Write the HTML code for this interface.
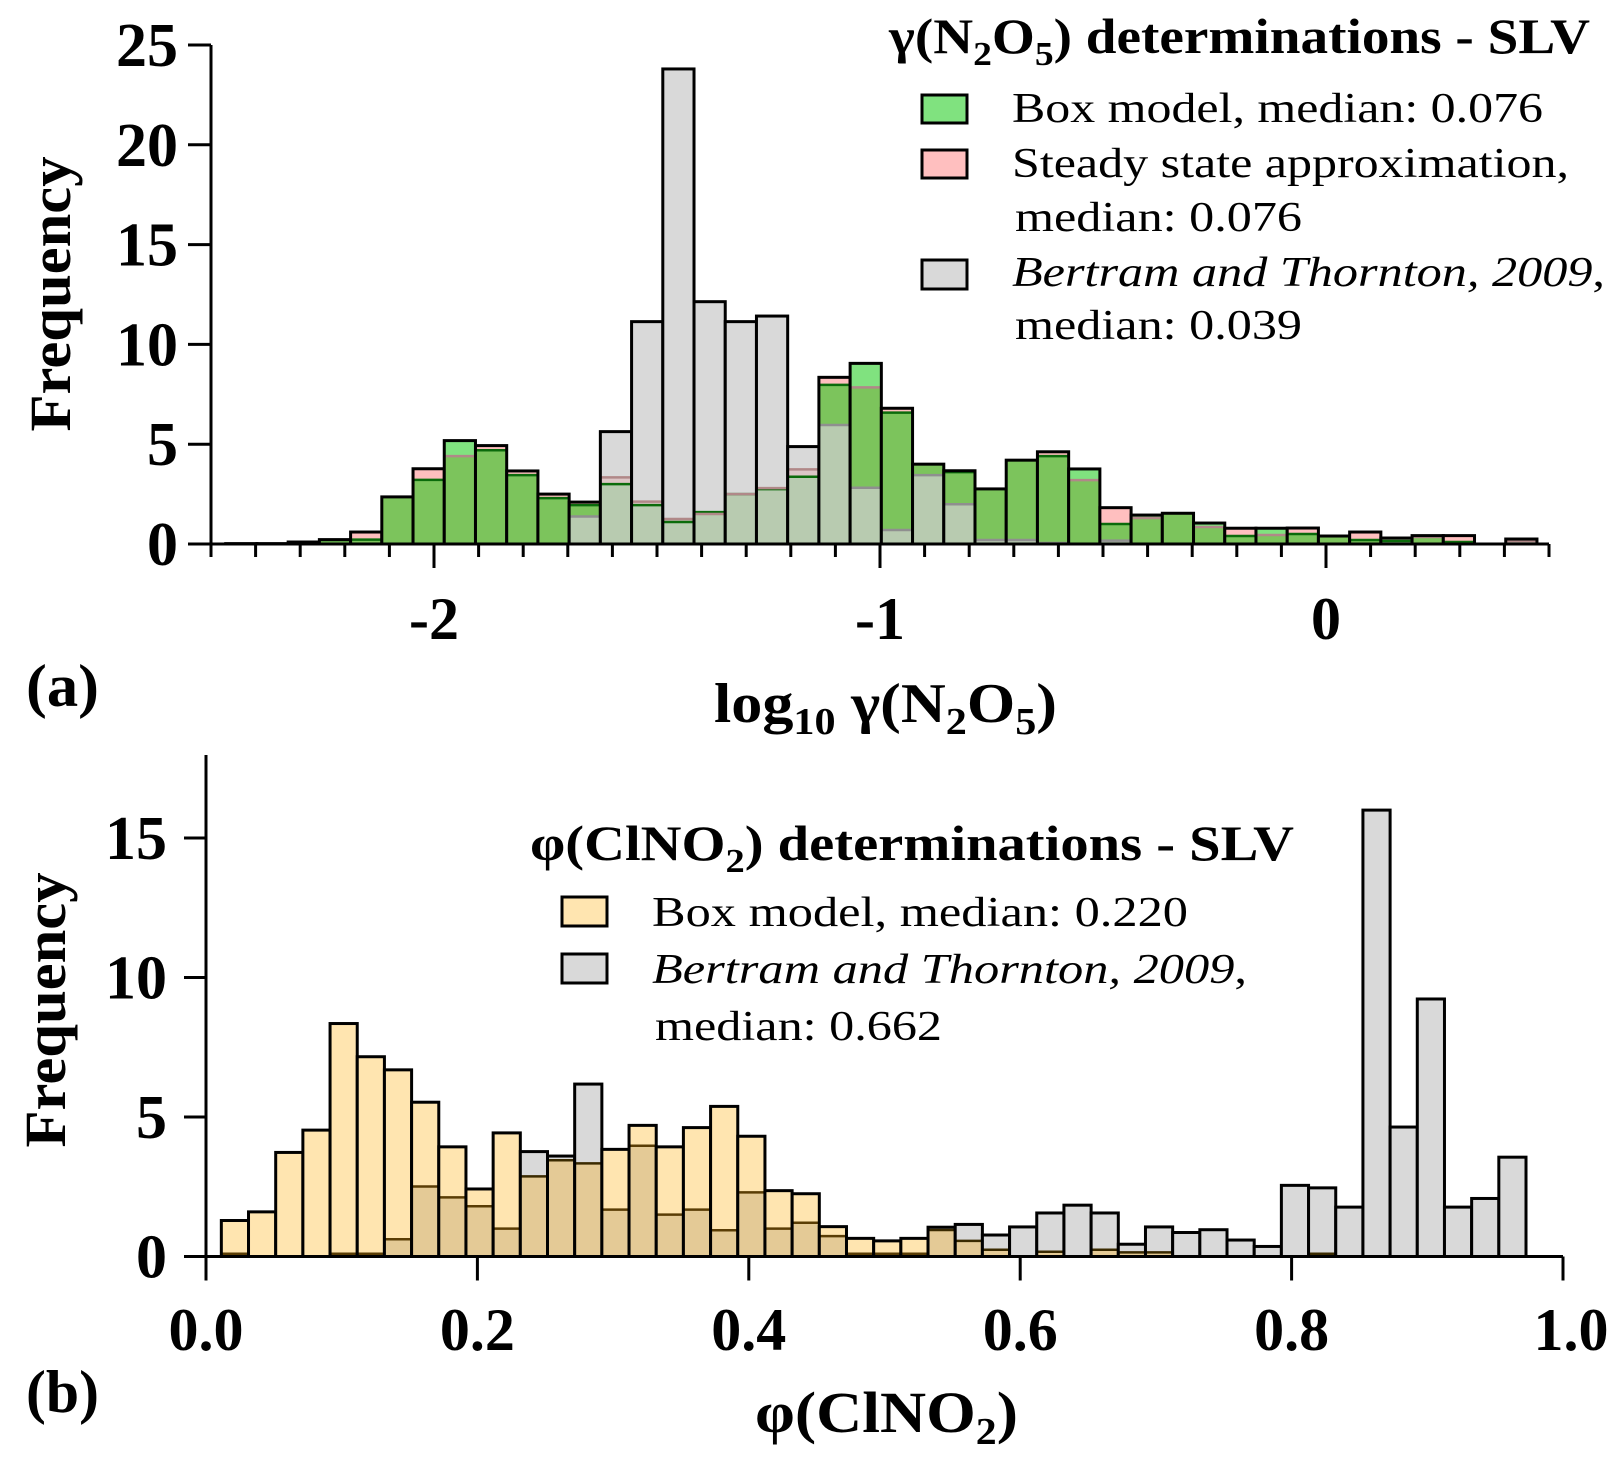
<!DOCTYPE html>
<html><head><meta charset="utf-8"><style>
html,body{margin:0;padding:0;background:#fff;}
svg, svg text{font-family:"Liberation Serif","Times New Roman",Times,serif;}
</style></head><body>
<svg id="fig" width="1621" height="1464" viewBox="0 0 1621 1464" xmlns="http://www.w3.org/2000/svg" font-family="Liberation Serif, Times New Roman, serif">
<g id="chartA"></g>
<g id="chartB"></g>

<!-- Panel a texts -->
<text transform="translate(70,294) rotate(-90)" text-anchor="middle" font-weight="bold" font-size="58" textLength="275" lengthAdjust="spacingAndGlyphs">Frequency</text>
<text x="714" y="722" font-weight="bold" font-size="56" textLength="343" lengthAdjust="spacingAndGlyphs">log<tspan font-size="38" dy="12">10</tspan><tspan dy="-12"> γ(N</tspan><tspan font-size="38" dy="12">2</tspan><tspan dy="-12">O</tspan><tspan font-size="38" dy="12">5</tspan><tspan dy="-12">)</tspan></text>
<text x="26" y="706" font-weight="bold" font-size="60" textLength="73" lengthAdjust="spacingAndGlyphs">(a)</text>
<g>
<text x="889" y="53" font-weight="bold" font-size="50" textLength="701" lengthAdjust="spacingAndGlyphs">γ(N<tspan font-size="34" dy="12">2</tspan><tspan dy="-12">O</tspan><tspan font-size="34" dy="12">5</tspan><tspan dy="-12">) determinations - SLV</tspan></text>
<rect x="922" y="95" width="45" height="28" fill="#80e27f" stroke="#000" stroke-width="3"/>
<text x="1012" y="122" font-size="42" textLength="531" lengthAdjust="spacingAndGlyphs">Box model, median: 0.076</text>
<rect x="922" y="150" width="45" height="28" fill="#ffbfbf" stroke="#000" stroke-width="3"/>
<text x="1012" y="177" font-size="42" textLength="557" lengthAdjust="spacingAndGlyphs">Steady state approximation,</text>
<text x="1015" y="231" font-size="42" textLength="287" lengthAdjust="spacingAndGlyphs">median: 0.076</text>
<rect x="922" y="260" width="45" height="29" fill="#d9d9d9" stroke="#000" stroke-width="3"/>
<text x="1012" y="286" font-size="42" textLength="593" lengthAdjust="spacingAndGlyphs"><tspan font-style="italic">Bertram and Thornton, 2009</tspan>,</text>
<text x="1015" y="339" font-size="42" textLength="287" lengthAdjust="spacingAndGlyphs">median: 0.039</text>
</g>

<!-- Panel b texts -->
<text transform="translate(65,1010) rotate(-90)" text-anchor="middle" font-weight="bold" font-size="58" textLength="275" lengthAdjust="spacingAndGlyphs">Frequency</text>
<text x="755" y="1432" font-weight="bold" font-size="58" textLength="263" lengthAdjust="spacingAndGlyphs">φ(ClNO<tspan font-size="38" dy="12">2</tspan><tspan dy="-12">)</tspan></text>
<text x="26" y="1412" font-weight="bold" font-size="60" textLength="73" lengthAdjust="spacingAndGlyphs">(b)</text>
<g>
<text x="530" y="860" font-weight="bold" font-size="50" textLength="764" lengthAdjust="spacingAndGlyphs">φ(ClNO<tspan font-size="34" dy="12">2</tspan><tspan dy="-12">) determinations - SLV</tspan></text>
<rect x="562" y="897" width="45" height="29" fill="#ffe5b0" stroke="#000" stroke-width="3"/>
<text x="652" y="926" font-size="42" textLength="536" lengthAdjust="spacingAndGlyphs">Box model, median: 0.220</text>
<rect x="562" y="954" width="45" height="29" fill="#d9d9d9" stroke="#000" stroke-width="3"/>
<text x="652" y="983" font-size="42" textLength="595" lengthAdjust="spacingAndGlyphs"><tspan font-style="italic">Bertram and Thornton, 2009</tspan>,</text>
<text x="655" y="1040" font-size="42" textLength="287" lengthAdjust="spacingAndGlyphs">median: 0.662</text>
</g>
</svg>
<script>
// ---------- Panel (a) data ----------
const aBinStart = -2.467;
const aBinWidth = 0.07;
const aBoxModel = [0.02,0.02,0.08,0.2,0.22,2.36,3.21,5.18,4.7,3.45,2.3,1.95,3.0,1.95,1.1,1.6,2.5,2.75,3.37,7.97,9.05,6.58,4.0,3.6,2.76,4.2,4.4,3.76,1.0,1.45,1.54,1.05,0.4,0.79,0.5,0.4,0.2,0.15,0.42,0.1,0,0.2];
const aSteady   = [0.02,0.02,0.1,0.22,0.6,2.36,3.77,4.4,4.93,3.66,2.5,2.1,3.34,2.12,1.25,1.5,2.5,2.8,3.74,8.35,7.85,6.8,4.0,3.67,2.76,4.2,4.62,3.2,1.82,1.3,1.54,0.85,0.79,0.45,0.8,0.4,0.6,0.3,0.35,0.42,0,0.15];
const aBertram  = [0,0,0,0,0,0,0,0,0,0,0,1.38,5.63,11.14,23.8,12.14,11.14,11.42,4.88,5.96,2.82,0.7,3.45,1.99,0.2,0.2,0.05,0,0.17,0,0,0,0,0,0,0,0,0.3,0,0,0,0.25];
const aYTicks = [0,5,10,15,20,25];
const aXTickLabels = ["-2","-1","0"];
const aXTickValues = [-2,-1,0];

// ---------- Panel (b) data ----------
const bBinStart = 0.0113;
const bBinWidth = 0.02003;
const bBoxModel = [1.29,1.6,3.73,4.53,8.35,7.16,6.69,5.53,3.93,2.42,4.43,2.87,3.45,3.34,3.84,4.7,3.93,4.62,5.38,4.31,2.36,2.25,1.07,0.65,0.56,0.65,0.95,0.56,0.24,0,0.17,0,0.24,0.15,0.15,0,0,0,0,0,0.1,0,0,0,0,0,0,0];
const bBertram  = [0.1,0,0,0,0.1,0.1,0.62,2.51,2.12,1.8,1.0,3.76,3.6,6.18,1.68,3.97,1.5,1.68,0.94,2.3,1.0,1.21,0.73,0.1,0.1,0.1,1.05,1.15,0.77,1.06,1.56,1.84,1.56,0.44,1.06,0.86,0.96,0.59,0.36,2.55,2.46,1.77,16.0,4.64,9.23,1.77,2.08,3.56];
const bYTicks = [0,5,10,15];
const bXTickLabels = ["0.0","0.2","0.4","0.6","0.8","1.0"];
const bXTickValues = [0,0.2,0.4,0.6,0.8,1.0];

const NS = "http://www.w3.org/2000/svg";
function mk(parent, tag, attrs){
  const e = document.createElementNS(NS, tag);
  for (const k in attrs) e.setAttribute(k, attrs[k]);
  parent.appendChild(e);
  return e;
}

function drawHist(g, cfg){
  const {xs, ys, binStart, binWidth, series, colorFor, lineColors, name} = cfg;
  const n = series[0].vals.length;
  const barsG = mk(g, "g", {});
  
  
  for (let i = 0; i < n; i++){
    const x0 = xs(binStart + i*binWidth), x1 = xs(binStart + (i+1)*binWidth);
    const hs = series.map(s => s.vals[i]);
    const levels = [0, ...hs].filter((v,k,a)=>a.indexOf(v)===k).sort((a,b)=>a-b);
    const bin = mk(barsG, "g", {});
    
    
    for (let k = 0; k < levels.length-1; k++){
      const lo = levels[k], hi = levels[k+1];
      const set = series.map((s,j)=> hs[j] >= hi ? s.key : null).filter(Boolean).join("");
      if (!set) continue;
      const seg = mk(bin, "rect", {x:x0, y:ys(hi), width:x1-x0, height:ys(lo)-ys(hi), fill:colorFor(set)});
      
      
    }
    const mx = Math.max(...hs);
    series.forEach((s,j)=>{
      if (hs[j] > 0 && hs[j] < mx - 0.01){
        const ln = mk(bin, "line", {x1:x0, x2:x1, y1:ys(hs[j]), y2:ys(hs[j]), stroke:lineColors[s.key], "stroke-width":2.5});
        
        
      }
    });
    const out = mk(bin, "rect", {x:x0, y:ys(mx), width:x1-x0, height:ys(0)-ys(mx), fill:"none", stroke:"#000", "stroke-width":3});
    
    
  }
}

// ----- Panel a -----
(function(){
  const g = document.getElementById("chartA");
  const X0 = 211, X1 = 1549, Y0 = 544, Y25 = 45;
  const xmin = -2.5, xmax = 0.5;
  const xs = v => X0 + (v - xmin)/(xmax - xmin)*(X1 - X0);
  const ys = v => Y0 - v*(Y0 - Y25)/25;
  const colors = {g:"#80e27f", p:"#ffbfbf", gp:"#7cc45c", t:"#d9d9d9", gpt:"#b8cbb0", gt:"#bcd6b2", pt:"#dcc6c6"};
  drawHist(g, {xs, ys, binStart:aBinStart, binWidth:aBinWidth, name:"panel-a",
    series:[{key:"g", vals:aBoxModel},{key:"p", vals:aSteady},{key:"t", vals:aBertram}],
    colorFor: s => colors[s] || "#ccc",
    lineColors:{g:"#0b6b0b", p:"#b08888", t:"#8f8f8f"}});
  const ax = mk(g, "path", {d:`M${X0},${Y25} V${Y0} H${X1}`, fill:"none", stroke:"#000", "stroke-width":3});
  
  
  aYTicks.forEach(v=>{
    const t = mk(g, "line", {x1:188, x2:X0, y1:ys(v), y2:ys(v), stroke:"#000", "stroke-width":3});
    
    
    const l = mk(g, "text", {x:178, y:ys(v)+21, "text-anchor":"end", "font-weight":"bold", "font-size":62});
    
    
    l.textContent = v;
  });
  for (let k = 0; k <= 30; k++){
    const v = xmin + k*0.1;
    const major = aXTickValues.some(m => Math.abs(m - v) < 1e-6);
    const t = mk(g, "line", {x1:xs(v), x2:xs(v), y1:Y0, y2:Y0 + (major?24:13), stroke:"#000", "stroke-width":3});
    
    
  }
  aXTickValues.forEach((v,i)=>{
    const l = mk(g, "text", {x:xs(v), y:639, "text-anchor":"middle", "font-weight":"bold", "font-size":60});
    
    
    l.textContent = aXTickLabels[i];
  });
})();

// ----- Panel b -----
(function(){
  const g = document.getElementById("chartB");
  const X0 = 206, X1 = 1563, Y0 = 1256.5, pxPerUnit = 27.9, Ytop = 755;
  const xs = v => X0 + v*(X1 - X0);
  const ys = v => Y0 - v*pxPerUnit;
  const colors = {y:"#ffe5b0", t:"#d9d9d9", yt:"#e4ca96"};
  drawHist(g, {xs, ys, binStart:bBinStart, binWidth:bBinWidth, name:"panel-b",
    series:[{key:"y", vals:bBoxModel},{key:"t", vals:bBertram}],
    colorFor: s => colors[s] || "#ccc",
    lineColors:{y:"#3a2a00", t:"#5a3d05"}});
  const ax = mk(g, "path", {d:`M${X0},${Ytop} V${Y0} H${X1}`, fill:"none", stroke:"#000", "stroke-width":3});
  
  
  bYTicks.forEach(v=>{
    const t = mk(g, "line", {x1:184, x2:X0, y1:ys(v), y2:ys(v), stroke:"#000", "stroke-width":3});
    
    
    const l = mk(g, "text", {x:167, y:ys(v)+21, "text-anchor":"end", "font-weight":"bold", "font-size":62});
    
    
    l.textContent = v;
  });
  bXTickValues.forEach((v,i)=>{
    const t = mk(g, "line", {x1:xs(v), x2:xs(v), y1:Y0, y2:Y0+24, stroke:"#000", "stroke-width":3});
    
    
    const l = mk(g, "text", {x:xs(v)+ (i===5?8:0), y:1350, "text-anchor":"middle", "font-weight":"bold", "font-size":60});
    
    
    l.textContent = bXTickLabels[i];
  });
})();
</script>
</body></html>
